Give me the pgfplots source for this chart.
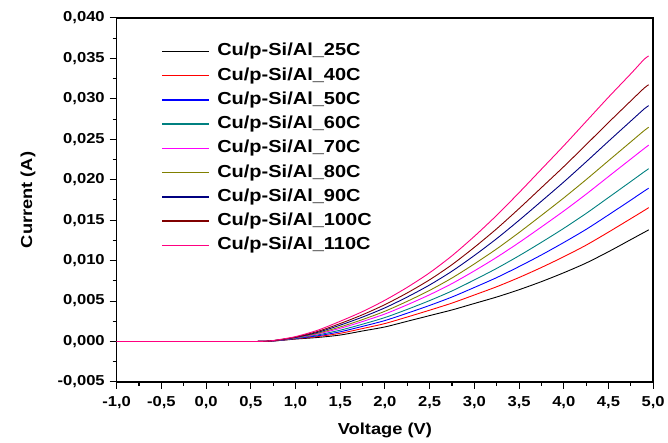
\documentclass[border=0pt]{standalone}
\usepackage{fontspec}
\setmainfont{Liberation Sans}[FakeStretch=1.15]
\usepackage{pgfplots}
\usepackage{pgfplotstable}
\pgfplotsset{compat=1.18}

\definecolor{cBlack}{RGB}{0,0,0}
\definecolor{cRed}{RGB}{255,0,0}
\definecolor{cBlue}{RGB}{0,0,255}
\definecolor{cCyan}{RGB}{0,128,128}
\definecolor{cMagenta}{RGB}{255,0,255}
\definecolor{cOlive}{RGB}{128,128,0}
\definecolor{cNavy}{RGB}{0,0,128}
\definecolor{cWine}{RGB}{128,0,0}
\definecolor{cPink}{RGB}{255,0,128}

% I-V curves (current in A)
\pgfplotstableread{
V     c25     c40     c50     c60     c70     c80     c90     c100    c110
-1.0  0       0       0       0       0       0       0       0       0
0.0   0       0       0       0       0       0       0       0       0
0.5   0       0       0       0       0       0       0       0       0
0.6   0.00001 0.00001 0.00001 0.00001 0.00001 0.00001 0.00001 0.00001 0.00001
0.7   0.00003 0.00003 0.00004 0.00004 0.00004 0.00005 0.00005 0.00005 0.00006
0.8   0.0001  0.00011 0.00012 0.00014 0.00015 0.00016 0.00017 0.00018 0.0002
1.0   0.0003  0.00034 0.00037 0.00041 0.00045 0.00048 0.00051 0.00055 0.0006
1.25  0.0005  0.00061 0.00071 0.00082 0.00094 0.00103 0.00114 0.00125 0.0014
1.5   0.0008  0.00101 0.0012  0.0014  0.00163 0.0018  0.00202 0.00222 0.0025
1.75  0.0013  0.0016  0.00187 0.00214 0.00247 0.00271 0.00302 0.00331 0.0037
2.0   0.0018  0.00222 0.00259 0.00296 0.0034  0.00374 0.00416 0.00456 0.0051
2.25  0.0025  0.00303 0.0035  0.00397 0.00454 0.00497 0.0055  0.00601 0.0067
2.5   0.0032  0.00387 0.00446 0.00506 0.00578 0.00632 0.00699 0.00763 0.0085
2.75  0.0039  0.00475 0.0055  0.00625 0.00716 0.00785 0.00869 0.0095  0.0106
3.0   0.0047  0.00575 0.00668 0.00761 0.00873 0.00959 0.01063 0.01164 0.0130
3.25  0.0055  0.00677 0.0079  0.00904 0.01041 0.01145 0.01272 0.01394 0.0156
3.5   0.0064  0.00791 0.00926 0.0106  0.01223 0.01347 0.01498 0.01643 0.0184
3.75  0.0074  0.00915 0.0107  0.01226 0.01416 0.01559 0.01734 0.01902 0.0213
4.0   0.0085  0.01048 0.01224 0.01399 0.01613 0.01775 0.01972 0.02162 0.0242
4.25  0.0097  0.01191 0.01386 0.01583 0.01821 0.02001 0.02221 0.02433 0.0272
4.5   0.0111  0.01352 0.01565 0.0178  0.02039 0.02235 0.02475 0.02707 0.0302
4.75  0.0126  0.01519 0.01748 0.01978 0.02256 0.02468 0.02726 0.02975 0.0331
4.9   0.0135  0.0162  0.0186  0.02098 0.02386 0.02608 0.02876 0.03134 0.0349
4.95  0.0138  0.01655 0.01895 0.02136 0.02428 0.02648 0.02916 0.03174 0.0353
}\ivdata

\begin{document}
\begin{tikzpicture}
\begin{axis}[
    name=main,
    scale only axis,
    width=538bp, height=365bp,
    xmin=-1, xmax=5,
    ymin=-0.005, ymax=0.040,
    xtick={-1,-0.5,...,5},
    ytick={-0.005,0,0.005,0.01,0.015,0.02,0.025,0.03,0.035,0.04},
    minor x tick num=1,
    minor y tick num=1,
    xtick pos=bottom, ytick pos=left,
    tick align=outside,
    major tick length=7bp, minor tick length=4bp,
    axis line style={line width=1.4bp},
    every tick/.style={line width=1.1bp, black},
    scaled y ticks=false,
    /pgf/number format/assume math mode=true,
    xticklabel style={yshift=-4bp, /pgf/number format/.cd, fixed, fixed zerofill, precision=1, use comma},
    yticklabel style={xshift=-1.5bp, /pgf/number format/.cd, fixed, fixed zerofill, precision=3, use comma},
    tick label style={font=\fontsize{14.5}{16}\selectfont\bfseries},
    label style={font=\fontsize{16}{18}\selectfont\bfseries},
    xlabel={Voltage (V)},
    ylabel={Current (A)},
    xlabel style={at={(rel axis cs:0.5,0)}, anchor=center, yshift=-49bp},
    ylabel style={at={(rel axis cs:0,0.5)}, anchor=center, yshift=89bp},
    legend cell align=left,
    legend style={draw=none, fill=none, inner sep=0pt, outer sep=0pt,
        at={(0.084,0.934)}, anchor=north west,
        font=\fontsize{17.5}{19}\selectfont\bfseries, row sep=5.3bp,
        nodes={inner sep=1.5bp, text height=12.5bp, text depth=3.5bp}},
    legend image code/.code={\draw[#1, line width=1.5bp] (0bp,0bp) -- (47bp,0bp);
        \path (53bp,0bp);},
    every axis plot/.append style={line width=0.9bp, smooth, tension=0.45},
]
\addplot[cBlack]   table[x=V, y=c25]  {\ivdata}; \addlegendentry{Cu/p-Si/Al\_25C}
\addplot[cRed]     table[x=V, y=c40]  {\ivdata}; \addlegendentry{Cu/p-Si/Al\_40C}
\addplot[cBlue]    table[x=V, y=c50]  {\ivdata}; \addlegendentry{Cu/p-Si/Al\_50C}
\addplot[cCyan]    table[x=V, y=c60]  {\ivdata}; \addlegendentry{Cu/p-Si/Al\_60C}
\addplot[cMagenta] table[x=V, y=c70]  {\ivdata}; \addlegendentry{Cu/p-Si/Al\_70C}
\addplot[cOlive]   table[x=V, y=c80]  {\ivdata}; \addlegendentry{Cu/p-Si/Al\_80C}
\addplot[cNavy]    table[x=V, y=c90]  {\ivdata}; \addlegendentry{Cu/p-Si/Al\_90C}
\addplot[cWine]    table[x=V, y=c100] {\ivdata}; \addlegendentry{Cu/p-Si/Al\_100C}
\addplot[cPink]    table[x=V, y=c110] {\ivdata}; \addlegendentry{Cu/p-Si/Al\_110C}
\end{axis}
% page margins as in the reference
\path ([xshift=-117bp, yshift=18bp]main.north west);
\path ([xshift=13bp, yshift=-61bp]main.south east);
\end{tikzpicture}
\end{document}
